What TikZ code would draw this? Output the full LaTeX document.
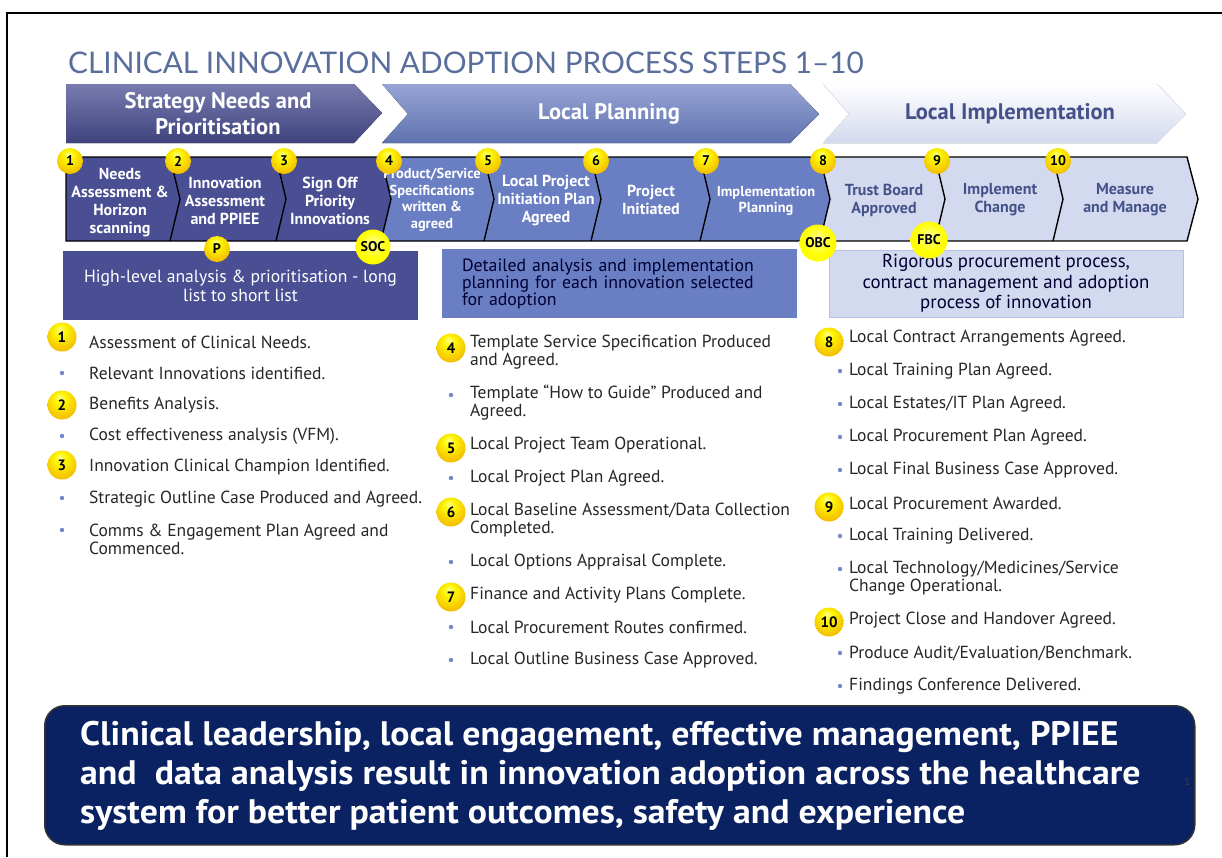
\documentclass[tikz,border=0pt]{standalone}
\usepackage{fontspec}
\setmainfont{PT Sans}
\newfontfamily\titlefont{Lato}
\definecolor{stratblue}{HTML}{4A4F94}
\definecolor{planblue}{HTML}{6A7FC3}
\definecolor{implblue}{HTML}{D3D9EE}
\definecolor{navy}{HTML}{0A2262}
\definecolor{titlegrey}{HTML}{5A6E9C}
\definecolor{impltext}{HTML}{45528A}
\definecolor{dotblue}{HTML}{7686CC}
\definecolor{gold}{HTML}{F4C200}
\definecolor{goldrim}{HTML}{B97800}
\newcommand{\fsize}[2]{\fontsize{#1}{#2}\selectfont}
\newcommand{\ink}{black!85}
\pgfdeclareradialshading{goldball}{\pgfpoint{-4bp}{14bp}}{color(0bp)=(yellow!45!white); color(10bp)=(yellow!85!gold); color(28bp)=(gold); color(42bp)=(gold!80!goldrim); color(50bp)=(goldrim)}
\pgfdeclareradialshading{brightball}{\pgfpoint{0bp}{6bp}}{color(0bp)=(yellow!40!white); color(20bp)=(yellow); color(45bp)=(yellow!92!orange); color(50bp)=(yellow!80!orange)}

\begin{document}
\begin{tikzpicture}[x=1pt, y=-1pt]
        \tikzset{
            phase/.style = {font=\bfseries\fsize{22.5}{26}, text=white, align=center},
            steplabel/.style = {font=\bfseries\fsize{16}{18}, text=white, align=center, inner sep=0},
            badge/.style = {circle, shade, shading=goldball, inner sep=0, minimum size=26, font=\bfseries\fsize{14}{14}},
            gate/.style = {circle, shade, shading=brightball, inner sep=0, minimum size=35, font=\bfseries\fsize{14}{14}},
            listbadge/.style = {badge, minimum size=29, font=\bfseries\fsize{15}{15}},
            listtext/.style = {anchor=west, align=left, inner sep=0, text=\ink, font=\fsize{17.5}{18}},
            descbox/.style = {minimum width=355, minimum height=69, inner sep=0}
        }
        \useasboundingbox (0,0) rectangle (1222,857);
        \draw[line width=1.5] (7,857) -- (7,13) -- (1222,13);
        \node[anchor=base west, inner sep=0, text=titlegrey, font=\titlefont\fsize{29.8}{30}] (title) at (68,73) {CLINICAL INNOVATION ADOPTION PROCESS STEPS 1–10};

        % phases
        \fill[top color=stratblue!75!white, bottom color=stratblue!85!black] (66,84) -- (354,84) -- (382,113) -- (354,143) -- (66,143) -- cycle;
        \fill[top color=planblue!70!white, bottom color=planblue!90!black] (382,84) -- (790,84) -- (819,114) -- (790,143) -- (382,143) -- (408,114) -- cycle;
        \fill[top color=white, bottom color=implblue, draw=implblue!60!white] (823,84) -- (1157,84) -- (1186,114) -- (1157,143) -- (823,143) -- (849,114) -- cycle;
        \node[phase] (ph1) at (218,114) {Strategy Needs and\\Prioritisation};
        \node[phase] (ph2) at (609,114) {Local Planning};
        \node[phase, text=impltext] (ph3) at (1010,114) {Local Implementation};

        % steps
        \foreach \xa/\xb/\na/\nb/\col in {66/170/0/10/stratblue, 170/276/10/10/stratblue, 276/381/10/10/stratblue,
                381/484/10/10/planblue, 484/591/10/10/planblue, 591/700/10/10/planblue, 700/820/10/10/planblue,
                820/935/10/10/implblue, 935/1053/10/10/implblue, 1053/1187/10/11/implblue}
            \fill[\col] (\xa,157) -- (\xb,157) -- (\xb+\nb,199) -- (\xb,241) -- (\xa,241) -- (\xa+\na,199) -- cycle;
        \draw[line width=1.4] (66,157) -- (1187,157) -- (1198,199) -- (1187,241) -- (66,241) -- cycle;
        \foreach \x in {170,276,381,484,591,700,820,935,1053}
            \draw[line width=1.4] (\x,157) -- (\x+10,199) -- (\x,241);
        \node[steplabel] (s1) at (120,203) {Needs\\Assessment \&\\Horizon\\scanning};
        \node[steplabel] (s2) at (225,201) {Innovation\\Assessment\\and PPIEE};
        \node[steplabel] (s3) at (330,201) {Sign Off\\Priority\\Innovations};
        \node[steplabel, font=\bfseries\fsize{14.4}{16.5}] (s4) at (432,200) {Product/Service\\Specifications\\written \&\\agreed};
        \node[steplabel] (s5) at (546,201) {Local Project\\Initiation Plan\\Agreed};
        \node[steplabel] (s6) at (651,200) {Project\\Initiated};
        \node[steplabel, font=\bfseries\fsize{14.4}{16.5}] (s7) at (766,201) {Implementation\\Planning};
        \node[steplabel, text=impltext] (s8) at (884,200) {Trust Board\\Approved};
        \node[steplabel, text=impltext] (s9) at (1000,200) {Implement\\Change};
        \node[steplabel, text=impltext] (s10) at (1125,200) {Measure\\and Manage};
        \foreach \x [count=\n] in {70,178,284,389,488,596,706,823,937,1058}
            \node[badge] (b\n) at (\x,161) {\n};

        % boxes
        \node[descbox, fill=stratblue, text=white, align=center, font=\fsize{17.6}{19}] (box1) at (240.5,285.5) {High-level analysis \& prioritisation - long\\list to short list};
        \node[descbox, fill=planblue, text=black!80!blue, align=left, text width=315, inner xsep=20, font=\fsize{17.8}{17}] (box2) at (619.5,283.5) {Detailed analysis and implementation\\planning for each innovation selected\\for adoption};
        \node[descbox, fill=implblue, draw=planblue!50, minimum width=354, minimum height=67, text=black!80!blue, align=center, font=\fsize{18.8}{20.5}] (box3) at (1006,283.5) {Rigorous procurement process,\\contract management and adoption\\process of innovation};
        \node[badge] (p) at (217,249) {P};
        \node[gate] (soc) at (373,247) {SOC};
        \node[gate, minimum size=37] (obc) at (818,243) {OBC};
        \node[gate, minimum size=37] (fbc) at (929,240) {FBC};

        % lists
        \foreach \n/\y in {1/337,2/405,3/465}
            \node[listbadge] (l\n) at (62,\y) {\n};
        \foreach \y in {373,436,498,530}
            \fill[dotblue] (62,\y) circle (2.2);
        \foreach \y/\t [count=\i] in {342/{Assessment of Clinical Needs.}, 373/{Relevant Innovations identified.},
                405/{Benefits Analysis.}, 436/{Cost effectiveness analysis (VFM).}, 467/{Innovation Clinical Champion Identified.},
                499/{Strategic Outline Case Produced and Agreed.}, 539/{Comms \& Engagement Plan Agreed and\\Commenced.}}
            \node[listtext] (ta\i) at (89,\y) {\t};
        \foreach \n/\y in {4/348,5/448,6/512,7/597}
            \node[listbadge] (l\n) at (451,\y) {\n};
        \foreach \y in {395,478,562,627,660}
            \fill[dotblue] (451,\y) circle (2.2);
        \foreach \y/\t [count=\i] in {352/{Template Service Specification Produced\\and Agreed.}, 403/{Template “How to Guide” Produced and\\Agreed.},
                445/{Local Project Team Operational.}, 478/{Local Project Plan Agreed.}, 520/{Local Baseline Assessment/Data Collection\\Completed.},
                562/{Local Options Appraisal Complete.}, 595/{Finance and Activity Plans Complete.}, 627/{Local Procurement Routes confirmed.},
                660/{Local Outline Business Case Approved.}}
            \node[listtext] (tb\i) at (470,\y) {\t};
        \foreach \n/\y in {8/342,9/507,10/622}
            \node[listbadge] (l\n) at (829,\y) {\n};
        \foreach \y in {371,404,437,470,536,569,653,686}
            \fill[dotblue] (840,\y) circle (2.2);
        \foreach \y/\t [count=\i] in {338/{Local Contract Arrangements Agreed.}, 371/{Local Training Plan Agreed.},
                404/{Local Estates/IT Plan Agreed.}, 437/{Local Procurement Plan Agreed.}, 470/{Local Final Business Case Approved.},
                503/{Local Procurement Awarded.}, 536/{Local Training Delivered.}, 578/{Local Technology/Medicines/Service\\Change Operational.},
                620/{Project Close and Handover Agreed.}, 653/{Produce Audit/Evaluation/Benchmark.}, 686/{Findings Conference Delivered.}}
            \node[listtext] (tc\i) at (849,\y) {\t};

        % message
        \node[draw=black!80, line width=1.5, fill=navy, rounded corners=20, minimum width=1150, minimum height=139, anchor=north west, inner sep=0] (banner) at (44,705) {};
        \node[anchor=west, align=left, inner sep=0, text=white, xscale=1.052, transform shape, font=\bfseries\fsize{34}{39}] (message) at (80,776) {Clinical leadership, local engagement, effective management, PPIEE\\and\ \ data analysis result in innovation adoption across the healthcare\\system for better patient outcomes, safety and experience};
        \node[text=black!75, font=\fsize{10}{10}] (pagenum) at (1187,782) {1};
    \end{tikzpicture}
\end{document}
